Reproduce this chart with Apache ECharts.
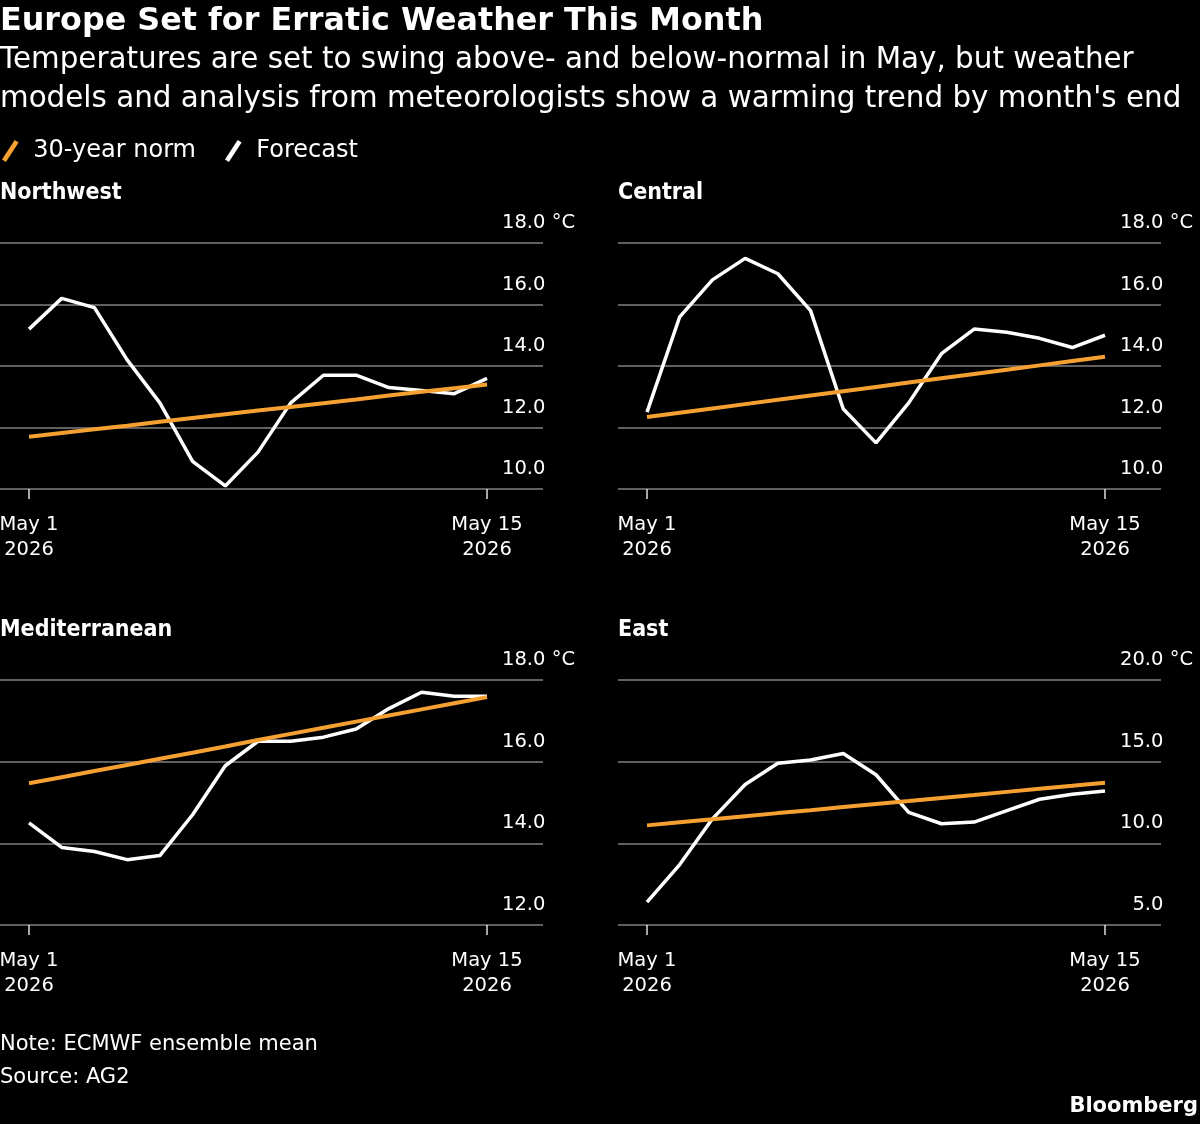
<!DOCTYPE html>
<html>
<head>
<meta charset="utf-8">
<title>Europe Set for Erratic Weather This Month</title>
<script src="https://cdn.jsdelivr.net/npm/echarts@6/dist/echarts.min.js"></script>
<style>
  html, body { margin: 0; padding: 0; background: #000; }
  #chart { width: 1200px; height: 1124px; }
</style>
</head>
<body>
<div id="chart"></div>
<script>
// days on the x axis
const dates = ['May 1', 'May 2', 'May 3', 'May 4', 'May 5', 'May 6', 'May 7', 'May 8',
  'May 9', 'May 10', 'May 11', 'May 12', 'May 13', 'May 14', 'May 15']
const year = '2026'

// forecast / 30-year norm, °C
const nwForecast = [15.2, 16.2, 15.9, 14.2, 12.8, 10.9, 10.1, 11.2, 12.8, 13.7, 13.7, 13.3, 13.2, 13.1, 13.6]
const nwNorm = [11.70, 11.82, 11.94, 12.06, 12.19, 12.31, 12.43, 12.55, 12.67, 12.79, 12.91, 13.04, 13.16, 13.28, 13.40]
const centralForecast = [12.5, 15.6, 16.8, 17.5, 17.0, 15.8, 12.6, 11.5, 12.8, 14.4, 15.2, 15.1, 14.9, 14.6, 15.0]
const centralNorm = [12.34, 12.48, 12.62, 12.76, 12.90, 13.04, 13.18, 13.32, 13.46, 13.60, 13.74, 13.88, 14.02, 14.16, 14.30]
const medForecast = [14.5, 13.9, 13.8, 13.6, 13.7, 14.7, 15.9, 16.5, 16.5, 16.6, 16.8, 17.3, 17.7, 17.6, 17.6]
const medNorm = [15.47, 15.62, 15.77, 15.92, 16.07, 16.22, 16.37, 16.53, 16.68, 16.83, 16.98, 17.13, 17.28, 17.43, 17.58]
const eastForecast = [6.4, 8.7, 11.5, 13.6, 14.9, 15.1, 15.5, 14.2, 11.9, 11.2, 11.3, 12.0, 12.7, 13.0, 13.2]
const eastNorm = [11.10, 11.29, 11.47, 11.66, 11.85, 12.03, 12.22, 12.41, 12.59, 12.78, 12.96, 13.15, 13.34, 13.52, 13.71]

// y axis [min, max, step] per panel
const nwTicks = [10, 18, 2]
const centralTicks = [10, 18, 2]
const medTicks = [12, 18, 2]
const eastTicks = [5, 20, 5]

const FONT = 'DejaVu Sans'
const FONT_NARROW = 'DejaVu Sans Condensed'
const ORANGE = '#f5a031'
const GRID_COLOR = '#606060'

const panels = [
  { name: 'Northwest', forecast: nwForecast, norm: nwNorm, ticks: nwTicks, left: 0, top: 243, height: 246 },
  { name: 'Central', forecast: centralForecast, norm: centralNorm, ticks: centralTicks, left: 618, top: 243, height: 246 },
  { name: 'Mediterranean', forecast: medForecast, norm: medNorm, ticks: medTicks, left: 0, top: 680, height: 245 },
  { name: 'East', forecast: eastForecast, norm: eastNorm, ticks: eastTicks, left: 618, top: 680, height: 245 }
]

const firstLast = (i) => i === 0 || i === dates.length - 1

const grid = []
const xAxis = []
const yAxis = []
const series = []
const titles = [
  {
    text: 'Europe Set for Erratic Weather This Month',
    left: 0, top: 4, padding: 0,
    textStyle: { fontFamily: FONT, fontSize: 31.8, fontWeight: 'bold', color: '#fff', lineHeight: 36 }
  },
  {
    text: 'Temperatures are set to swing above- and below-normal in May, but weather\nmodels and analysis from meteorologists show a warming trend by month\'s end',
    left: 0, top: 40.5, padding: 0,
    textStyle: { fontFamily: FONT, fontSize: 29.4, fontWeight: 'normal', color: '#fff', lineHeight: 39 }
  },
  {
    text: 'Note: ECMWF ensemble mean\nSource: AG2',
    left: 0, top: 1028, padding: 0,
    textStyle: { fontFamily: FONT, fontSize: 21, fontWeight: 'normal', color: '#fff', lineHeight: 33 }
  },
  {
    text: 'Bloomberg',
    right: 2, top: 1094, padding: 0,
    textStyle: { fontFamily: FONT, fontSize: 21, fontWeight: 'bold', color: '#fff', lineHeight: 26 }
  }
]

panels.forEach((p, k) => {
  const [min, max, step] = p.ticks
  const bg = k * 2
  const data = k * 2 + 1

  titles.push({
    text: p.name,
    left: p.left, top: p.top - 64, padding: 0,
    textStyle: { fontFamily: FONT_NARROW, fontSize: 23, fontWeight: 'bold', color: '#fff', lineHeight: 28 }
  })

  // background grid: gridlines + labels
  grid.push({ left: p.left, top: p.top, width: 543, height: p.height, containLabel: false, outerBoundsMode: 'none' })
  xAxis.push({ gridIndex: bg, type: 'value', min: 0, max: 1, show: false })
  yAxis.push({
    gridIndex: bg, type: 'value', position: 'right', min: min, max: max, interval: step,
    axisLine: { show: false }, axisTick: { show: false },
    splitLine: { show: true, lineStyle: { color: GRID_COLOR, width: 2 } },
    axisLabel: {
      margin: 32, align: 'right', verticalAlign: 'bottom',
      formatter: (v) => v === max ? `{n|${v.toFixed(1)}}{u| °C}` : `{n|${v.toFixed(1)}}{h| °C}`,
      rich: {
        n: { fontFamily: FONT, fontSize: 19.5, color: '#fff', lineHeight: 40 },
        u: { fontFamily: FONT, fontSize: 19.5, color: '#fff', lineHeight: 40 },
        h: { fontFamily: FONT, fontSize: 19.5, color: 'transparent', lineHeight: 40 }
      }
    }
  })

  // data grid: May 1 .. May 15
  grid.push({ left: p.left + 29, top: p.top, width: 458, height: p.height, containLabel: false, outerBoundsMode: 'none' })
  xAxis.push({
    gridIndex: data, type: 'category', data: dates, boundaryGap: false,
    axisLine: { show: false },
    axisTick: { show: true, interval: firstLast, length: 10, lineStyle: { color: '#ddd', width: 1.5 } },
    axisLabel: {
      interval: firstLast, margin: 23,
      formatter: (v) => v + '\n' + year,
      fontFamily: FONT, fontSize: 19.5, lineHeight: 25, color: '#fff'
    },
    splitLine: { show: false }
  })
  yAxis.push({ gridIndex: data, type: 'value', min: min, max: max, show: false })

  series.push({
    name: 'Forecast', type: 'line', xAxisIndex: data, yAxisIndex: data,
    data: p.forecast, symbol: 'none', z: 3,
    lineStyle: { color: '#fff', width: 3.5 }, itemStyle: { color: '#fff' }
  })
  series.push({
    name: '30-year norm', type: 'line', xAxisIndex: data, yAxisIndex: data,
    data: p.norm, symbol: 'none', z: 4,
    lineStyle: { color: ORANGE, width: 4 }, itemStyle: { color: ORANGE }
  })
})

const chart = echarts.init(document.getElementById('chart'))
chart.setOption({
  backgroundColor: '#000',
  animation: false,
  title: titles,
  legend: {
    data: ['30-year norm', 'Forecast'],
    left: 2, top: 139, padding: 0, itemGap: 29,
    itemWidth: 18, itemHeight: 22,
    icon: 'path://M0,20 L13,0 L17,2.5 L4,22.5 Z',
    textStyle: { fontFamily: FONT, fontSize: 24, color: '#fff', padding: [0, 0, 0, 9] }
  },
  grid: grid,
  xAxis: xAxis,
  yAxis: yAxis,
  series: series
})
</script>
</body>
</html>
